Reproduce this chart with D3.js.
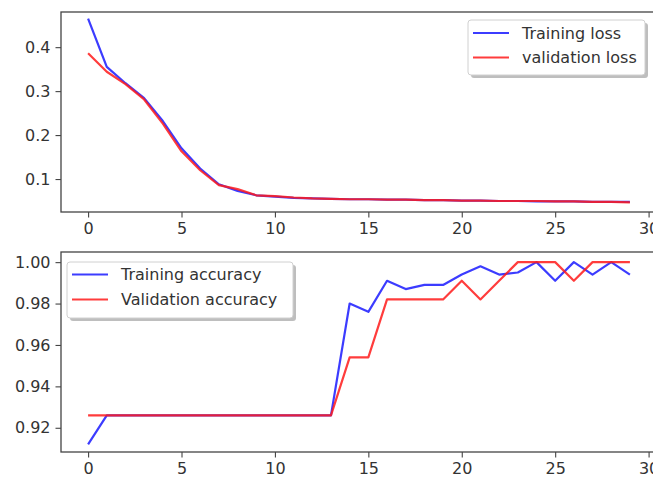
<!DOCTYPE html>
<html><head><meta charset="utf-8">
<script src="https://cdn.jsdelivr.net/npm/d3@7"></script>
<style>body{margin:0;background:#fff}svg{display:block}text{font-family:"DejaVu Sans",sans-serif;}</style>
</head><body>
<script>
const epochs = d3.range(0, 30);
const trainLoss = [0.465, 0.355, 0.318, 0.284, 0.232, 0.170, 0.124, 0.088, 0.073, 0.063, 0.060, 0.057, 0.056, 0.055, 0.054, 0.054, 0.053, 0.053, 0.052, 0.052, 0.051, 0.051, 0.050, 0.050, 0.049, 0.049, 0.049, 0.048, 0.048, 0.048];
const valLoss   = [0.386, 0.344, 0.316, 0.281, 0.226, 0.163, 0.120, 0.086, 0.077, 0.063, 0.061, 0.058, 0.056, 0.055, 0.054, 0.054, 0.053, 0.053, 0.052, 0.052, 0.051, 0.051, 0.050, 0.050, 0.050, 0.049, 0.049, 0.048, 0.048, 0.047];
const trainAcc  = [0.912, 0.926, 0.926, 0.926, 0.926, 0.926, 0.926, 0.926, 0.926, 0.926, 0.926, 0.926, 0.926, 0.926, 0.980, 0.976, 0.991, 0.987, 0.989, 0.989, 0.994, 0.998, 0.994, 0.995, 1.000, 0.991, 1.000, 0.994, 1.000, 0.994];
const valAcc    = [0.926, 0.926, 0.926, 0.926, 0.926, 0.926, 0.926, 0.926, 0.926, 0.926, 0.926, 0.926, 0.926, 0.926, 0.954, 0.954, 0.982, 0.982, 0.982, 0.982, 0.991, 0.982, 0.991, 1.000, 1.000, 1.000, 0.991, 1.000, 1.000, 1.000];
const xTicks = [0, 5, 10, 15, 20, 25, 30];
const lossTicks = [0.1, 0.2, 0.3, 0.4];
const accTicks = [0.92, 0.94, 0.96, 0.98, 1.00];
const lossLabels = ["Training loss", "validation loss"];
const accLabels = ["Training accuracy", "Validation accuracy"];
const colors = ["#1a1aff", "#ff1a1a"];

const W = 653, H = 479;
const svg = d3.select("body").append("svg").attr("width", W).attr("height", H);

const x = d3.scaleLinear().domain([-1.45, 30.45]).range([61, 657]);

function panel(top, bottom, yDomain, yTicks, fmt, series, labels, leg) {
  const y = d3.scaleLinear().domain(yDomain).range([bottom, top]);
  const g = svg.append("g");
  const line = d3.line().x((d, i) => x(epochs[i])).y(d => y(d));
  series.forEach((s, k) => {
    g.append("path").datum(s).attr("d", line)
      .attr("fill", "none").attr("stroke", colors[k]).attr("stroke-width", 2.2)
      .attr("stroke-linejoin", "round").attr("stroke-opacity", 0.85);
  });
  // frame
  g.append("rect").attr("x", x.range()[0]).attr("y", top)
    .attr("width", x.range()[1] - x.range()[0]).attr("height", bottom - top)
    .attr("fill", "none").attr("stroke", "#444").attr("stroke-width", 1.3);
  const xa = g.append("g").attr("transform", `translate(0,${bottom})`)
    .call(d3.axisBottom(x).tickValues(xTicks).tickSize(5.5).tickPadding(5).tickFormat(d3.format("d")));
  const ya = g.append("g").attr("transform", `translate(${x.range()[0]},0)`)
    .call(d3.axisLeft(y).tickValues(yTicks).tickSize(5.5).tickPadding(5).tickFormat(fmt));
  [xa, ya].forEach(a => {
    a.select(".domain").remove();
    a.selectAll("line").attr("stroke", "#444").attr("stroke-width", 1.1);
    a.selectAll("text").attr("fill", "#333").style("font-size", "16px").style("font-family", '"DejaVu Sans",sans-serif');
  });
  // legend
  const lg = svg.append("g");
  lg.append("rect").attr("x", leg.x + 3).attr("y", leg.y + 3).attr("width", leg.w).attr("height", leg.h)
    .attr("rx", 3).attr("fill", "#888").attr("opacity", 0.55);
  lg.append("rect").attr("x", leg.x).attr("y", leg.y).attr("width", leg.w).attr("height", leg.h)
    .attr("rx", 3).attr("fill", "#fff").attr("stroke", "#d0d0d0").attr("stroke-width", 1);
  labels.forEach((lab, k) => {
    const cy = leg.row0 + k * leg.dy;
    lg.append("line").attr("x1", leg.x + 5).attr("x2", leg.x + 41).attr("y1", cy).attr("y2", cy)
      .attr("stroke", colors[k]).attr("stroke-width", 2.2).attr("stroke-opacity", 0.85);
    lg.append("text").attr("x", leg.x + 54).attr("y", cy).attr("dy", "0.35em")
      .attr("fill", "#333").style("font-size", "16px").text(lab);
  });
}

panel(12, 212, [0.025, 0.48], lossTicks, d3.format(".1f"), [trainLoss, valLoss], lossLabels,
  {x: 468, y: 20, w: 177, h: 55, row0: 33, dy: 24.5});
panel(252, 452, [0.9083, 1.0049], accTicks, d3.format(".2f"), [trainAcc, valAcc], accLabels,
  {x: 67, y: 262, w: 226, h: 56, row0: 274.5, dy: 25});
</script>
</body></html>
